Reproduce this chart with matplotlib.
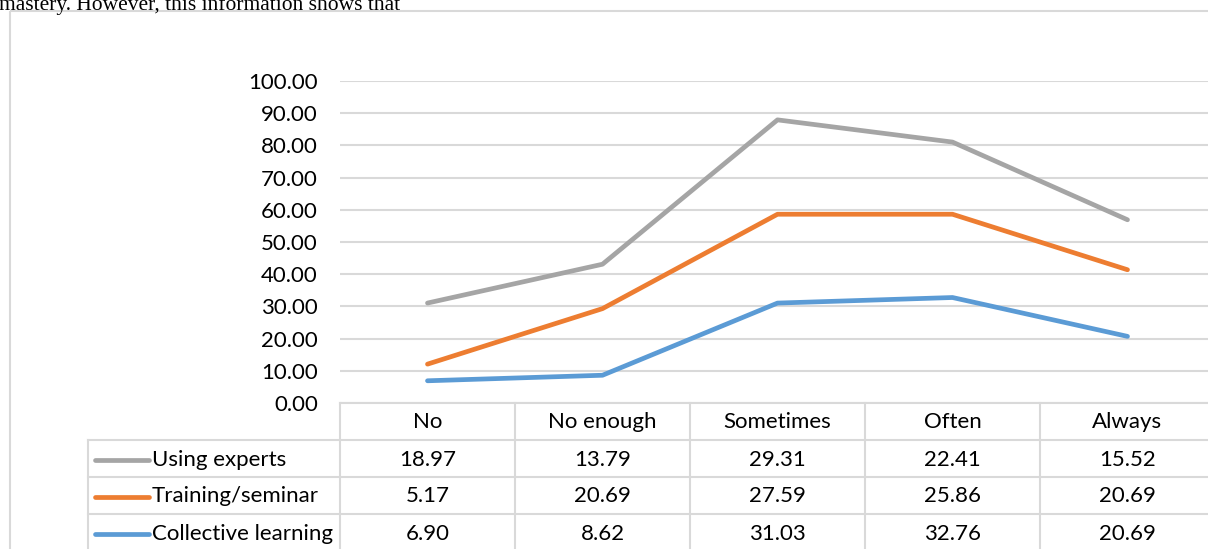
import numpy as np
import matplotlib
matplotlib.use("Agg")
import matplotlib.pyplot as plt
from matplotlib.patches import Rectangle

categories = ["No", "No enough", "Sometimes", "Often", "Always"]
series_names = ["Using experts", "Training/seminar", "Collective learning"]
using_experts = [18.97, 13.79, 29.31, 22.41, 15.52]
training_seminar = [5.17, 20.69, 27.59, 25.86, 20.69]
collective_learning = [6.90, 8.62, 31.03, 32.76, 20.69]
colors = ["#A5A5A5", "#ED7D31", "#5B9BD5"]
yticks = [0, 10, 20, 30, 40, 50, 60, 70, 80, 90, 100]

W, H = 1208, 549
FONT = "Lato"
FS = 16

fig = plt.figure(figsize=(W / 100, H / 100), dpi=100)

# overlay in pixel coordinates for the frame, table and caption
ov = fig.add_axes([0, 0, 1, 1])
ov.set_xlim(0, W)
ov.set_ylim(H, 0)
ov.axis("off")

ov.text(-1, 10, "mastery. However, this information shows that", family="Liberation Serif",
        fontsize=15.5, va="baseline", ha="left", color="black")
ov.add_patch(Rectangle((10, 11), 1300, 600, fill=False, edgecolor="#d9d9d9", lw=1.5))

# plot area: columns are 175 px wide starting at x=340
col_left, col_w = 340, 175
y_top, y_zero = 81, 403
ax = fig.add_axes([col_left / W, (H - y_zero) / H, col_w * len(categories) / W, (y_zero - y_top) / H])
ax.set_zorder(2)
ax.patch.set_alpha(0)

# stacked lines: collective learning at the bottom, experts on top
x = np.arange(len(categories))
stacked = np.cumsum([collective_learning, training_seminar, using_experts], axis=0)
for vals, c in zip(stacked, colors[::-1]):
    ax.plot(x, vals, color=c, lw=3.4, solid_capstyle="round", solid_joinstyle="round")

ax.set_xlim(-0.5, len(categories) - 0.5)
ax.set_ylim(0, 100)
ax.set_yticks(yticks)
ax.set_yticklabels([f"{v:.2f}" for v in yticks], family=FONT, fontsize=FS)
ax.set_xticks([])
ax.tick_params(axis="y", length=0, pad=16)
ax.grid(axis="y", color="#d9d9d9", lw=1.5)
ax.set_axisbelow(True)
for s in ax.spines.values():
    s.set_visible(False)

# data table under the plot
rows = [403, 440, 477, 514, 551]
lab_left = 88
grid_c = "#d9d9d9"
ov.plot([col_left, W + 10], [rows[0], rows[0]], color=grid_c, lw=1.5)
for r in rows[1:]:
    ov.plot([lab_left, W + 10], [r, r], color=grid_c, lw=1.5)
ov.plot([lab_left, lab_left], [rows[1], H + 10], color=grid_c, lw=1.5)
for i in range(len(categories) + 1):
    xc = col_left + i * col_w
    ov.plot([xc, xc], [rows[0], H + 10], color=grid_c, lw=1.5)

for i, cat in enumerate(categories):
    ov.text(col_left + (i + 0.5) * col_w, (rows[0] + rows[1]) / 2 + 1, cat,
            family=FONT, fontsize=FS, ha="center", va="center")

table_vals = [using_experts, training_seminar, collective_learning]
for j, (name, vals, c) in enumerate(zip(series_names, table_vals, colors)):
    yc = (rows[j + 1] + rows[j + 2]) / 2 + 1
    ov.plot([95, 149], [yc, yc], color=c, lw=3.4, solid_capstyle="round")
    ov.text(152, yc, name, family=FONT, fontsize=FS, ha="left", va="center")
    for i, v in enumerate(vals):
        ov.text(col_left + (i + 0.5) * col_w, yc, f"{v:.2f}",
                family=FONT, fontsize=FS, ha="center", va="center")

fig.savefig("out.png", dpi=100)
